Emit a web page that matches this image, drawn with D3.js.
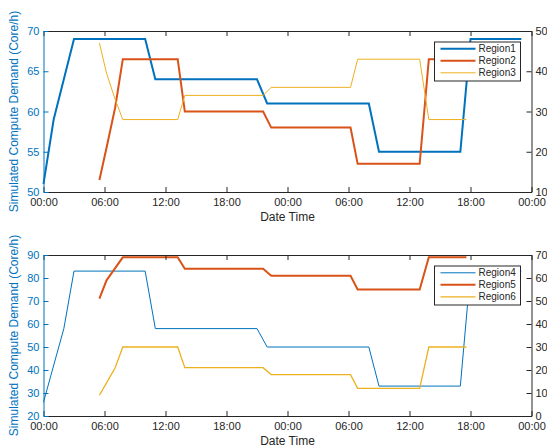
<!DOCTYPE html>
<html>
<head>
<meta charset="utf-8">
<script src="https://cdn.jsdelivr.net/npm/d3@7"></script>
<style>
  html, body { margin: 0; padding: 0; background: #fff; }
  svg { display: block; }
  text { font-family: "Liberation Sans", Arial, Helvetica, sans-serif; }
</style>
</head>
<body>
<svg id="chart" width="547" height="448"></svg>
<script>
// ---------- data (hours since 00:00 of day 1) ----------
const startTime = new Date(2023, 0, 1, 0, 0);
const endTime = new Date(2023, 0, 3, 0, 0);

const hoursA = [0, 1, 3, 10, 11, 21, 22, 32, 33, 41, 42, 47];
const region1 = [51, 59, 69, 69, 64, 64, 61, 61, 55, 55, 69, 69];

const hoursB = [5.5, 6.2, 7.05, 7.8, 13.2, 13.9, 21.6, 22.4, 30.2, 30.9, 37.0, 37.9, 41.6];
const region2 = [13, 21, 31, 43, 43, 30, 30, 26, 26, 17, 17, 43, 43];
const region3 = [47, 39.5, 33, 28, 28, 34, 34, 36, 36, 43, 43, 28, 28];

const hoursC = [0, 2, 3, 10, 11, 21, 22, 32, 33, 41, 42, 47];
const region4 = [26, 58, 83, 83, 58, 58, 50, 50, 33, 33, 83, 83];
const region5 = [51, 59, 64.3, 69, 69, 64, 64, 61, 61, 55, 55, 69, 69];
const region6 = [9, 14.4, 21, 30, 30, 21, 21, 18, 18, 12, 12, 30, 30];

const leftTicksTop = [50, 55, 60, 65, 70];
const rightTicksTop = [10, 20, 30, 40, 50];
const leftTicksBottom = [20, 30, 40, 50, 60, 70, 80, 90];
const rightTicksBottom = [0, 10, 20, 30, 40, 50, 60, 70];

const yLabel = "Simulated Compute Demand (Core/h)";
const xLabel = "Date Time";

// ---------- styles ----------
const BLUE = "#0072BD", ORANGE = "#D95319", YELLOW = "#EDB120", DARK = "#262626";

const toDate = h => new Date(startTime.getTime() + h * 3600e3);
const svg = d3.select("#chart");

function drawPanel(cfg) {
  const x0 = 43.5, x1 = 531.5;
  const g = svg.append("g");
  const x = d3.scaleTime().domain([startTime, endTime]).range([x0, x1]);
  const yL = d3.scaleLinear().domain(cfg.leftDomain).range([cfg.bottom, cfg.top]);
  const yR = d3.scaleLinear().domain(cfg.rightDomain).range([cfg.bottom, cfg.top]);

  // series
  cfg.series.forEach(s => {
    const y = s.axis === "left" ? yL : yR;
    const pts = s.hours.map((h, i) => [toDate(h), s.values[i]]);
    g.append("path")
      .datum(pts)
      .attr("fill", "none")
      .attr("stroke", s.color)
      .attr("stroke-width", s.width)
      .attr("stroke-linejoin", "miter")
      .attr("d", d3.line().x(d => x(d[0])).y(d => y(d[1])));
  });

  const tickEvery = d3.timeHour.every(6);
  const fmt = d3.timeFormat("%H:%M");

  // bottom axis
  const ax = g.append("g").attr("transform", `translate(0,${cfg.bottom})`)
    .call(d3.axisBottom(x).ticks(tickEvery).tickFormat(fmt).tickSizeInner(-5).tickSizeOuter(0).tickPadding(6));
  // top axis (box)
  const axT = g.append("g").attr("transform", `translate(0,${cfg.top})`)
    .call(d3.axisTop(x).ticks(tickEvery).tickFormat("").tickSizeInner(-5).tickSizeOuter(0));
  [ax, axT].forEach(a => {
    a.select(".domain").attr("stroke", DARK);
    a.selectAll(".tick line").attr("stroke", DARK);
    a.selectAll(".tick text").attr("fill", DARK).style("font-size", "11px")
      .style("font-family", "'Liberation Sans', Arial, Helvetica, sans-serif");
  });

  // left axis
  const aL = g.append("g").attr("transform", `translate(${x0},0)`)
    .call(d3.axisLeft(yL).tickValues(cfg.leftTicks).tickSizeInner(-5).tickSizeOuter(0).tickPadding(4));
  aL.select(".domain").attr("stroke", BLUE);
  aL.selectAll(".tick line").attr("stroke", BLUE);
  aL.selectAll(".tick text").attr("fill", BLUE).style("font-size", "11px")
    .style("font-family", "'Liberation Sans', Arial, Helvetica, sans-serif");

  // right axis
  const aR = g.append("g").attr("transform", `translate(${x1},0)`)
    .call(d3.axisRight(yR).tickValues(cfg.rightTicks).tickSizeInner(-5).tickSizeOuter(0).tickPadding(4));
  aR.select(".domain").attr("stroke", DARK);
  aR.selectAll(".tick line").attr("stroke", DARK);
  aR.selectAll(".tick text").attr("fill", DARK).style("font-size", "11px")
    .style("font-family", "'Liberation Sans', Arial, Helvetica, sans-serif");

  // labels
  g.append("text")
    .attr("transform", `translate(18,${(cfg.top + cfg.bottom) / 2}) rotate(-90)`)
    .attr("text-anchor", "middle")
    .attr("fill", BLUE)
    .style("font-size", "12px")
    .text(yLabel);
  g.append("text")
    .attr("x", (x0 + x1) / 2)
    .attr("y", cfg.bottom + 28.5)
    .attr("text-anchor", "middle")
    .attr("fill", DARK)
    .style("font-size", "12px")
    .text(xLabel);

  // legend
  const lg = g.append("g");
  const lx = 434.5, ly = cfg.top + 11, lw = 86, lh = 39;
  lg.append("rect").attr("x", lx).attr("y", ly).attr("width", lw).attr("height", lh)
    .attr("fill", "#fff").attr("stroke", DARK).attr("stroke-width", 1);
  cfg.series.forEach((s, i) => {
    const ry = ly + 6.8 + i * 12;
    lg.append("line").attr("x1", lx + 6).attr("x2", lx + 41).attr("y1", ry).attr("y2", ry)
      .attr("stroke", s.color).attr("stroke-width", s.width);
    lg.append("text").attr("x", lx + 44).attr("y", ry).attr("dy", "0.35em")
      .attr("fill", DARK).style("font-size", "10px").text(s.name);
  });
}

drawPanel({
  top: 31, bottom: 192,
  leftDomain: [50, 70], rightDomain: [10, 50],
  leftTicks: leftTicksTop, rightTicks: rightTicksTop,
  series: [
    { name: "Region1", hours: hoursA, values: region1, color: BLUE, width: 2, axis: "left" },
    { name: "Region2", hours: hoursB, values: region2, color: ORANGE, width: 2, axis: "right" },
    { name: "Region3", hours: hoursB, values: region3, color: YELLOW, width: 1, axis: "right" }
  ]
});

drawPanel({
  top: 255, bottom: 416,
  leftDomain: [20, 90], rightDomain: [0, 70],
  leftTicks: leftTicksBottom, rightTicks: rightTicksBottom,
  series: [
    { name: "Region4", hours: hoursC, values: region4, color: BLUE, width: 1, axis: "left" },
    { name: "Region5", hours: hoursB, values: region5, color: ORANGE, width: 2, axis: "right" },
    { name: "Region6", hours: hoursB, values: region6, color: YELLOW, width: 1.3, axis: "right" }
  ]
});
</script>
</body>
</html>
